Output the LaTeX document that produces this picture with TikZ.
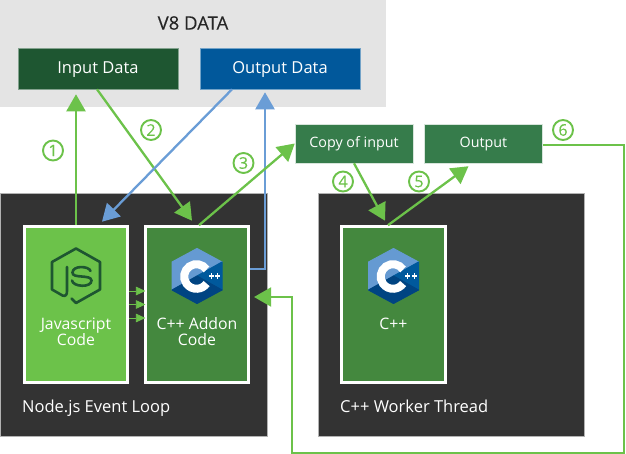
\documentclass[tikz,border=0pt]{standalone}
\usepackage{fontspec}
\setmainfont{Open Sans}
\newfontfamily\semibd[FakeBold=0.2]{Open Sans}
\usetikzlibrary{arrows.meta}
\definecolor{gline}{HTML}{6CC24A}
\definecolor{bline}{HTML}{6A9DD6}
\definecolor{dark}{HTML}{333333}
\definecolor{pale}{HTML}{E4E4E4}
\definecolor{indata}{HTML}{1E5631}
\definecolor{outdata}{HTML}{01589B}
\definecolor{midgreen}{HTML}{367C4B}
\definecolor{addon}{HTML}{44883E}
\definecolor{cA}{HTML}{659AD2}
\definecolor{cB}{HTML}{00599C}
\definecolor{cC}{HTML}{004482}
\tikzset{
  x=1pt,y=-1pt,
  panel/.style={fill=dark,draw=gray!60,line width=0.4pt,inner sep=0,anchor=north west},
  datum/.style={draw=white!45!#1,fill=#1,line width=0.6pt,text=white,font=\fontsize{16.5}{18}\selectfont,inner sep=0,minimum width=160pt,minimum height=41pt,text height=11.8pt,text depth=2pt},
  small/.style={draw=white!80!midgreen,fill=midgreen,line width=0.5pt,text=white,font=\fontsize{14.3}{16}\selectfont,inner sep=0,minimum width=118pt,minimum height=39pt,text height=10.2pt,text depth=1.5pt},
  codebox/.style={draw=white,fill=#1,line width=2.6pt,inner sep=0,minimum width=103.5pt,minimum height=156pt},
  caption/.style={text=white,inner sep=0,align=center,font=\fontsize{15.8}{15.8}\selectfont},
  paneltext/.style={text=white,inner sep=0,anchor=west,font=\fontsize{16.5}{18}\selectfont,text height=11.8pt,text depth=0pt},
  gflow/.style={draw=gline,line width=2.3pt,-{Triangle[length=17pt,width=19pt]}},
  bflow/.style={draw=bline,line width=2.3pt,-{Triangle[length=17pt,width=19pt]}},
  tiny/.style={draw=gline,line width=0.6pt,-{Triangle[length=9.5pt,width=8.5pt]}},
  num/.style={circle,draw=gline,line width=1.9pt,text=gline,minimum size=20pt,inner sep=0,font=\semibd\fontsize{16}{16}\selectfont},
  cpplogo/.pic={
    \fill[cA,line join=round,draw=cA,line width=1pt] (0,-27.5)--(25,-14)--(0,0)--(-25,14)--(-25,-14)--cycle;
    \fill[cB,draw=cB,line width=1pt,line join=round] (25,-14)--(25,14)--(0,0)--cycle;
    \fill[cC,draw=cC,line width=1pt,line join=round] (-25,14)--(0,0)--(25,14)--(0,27.5)--cycle;
    \draw[white,line width=8pt] (-0.5,0.5) ++(35:12.3pt) arc[start angle=35,end angle=325,radius=12.3pt];
    \foreach \px in {14.2,20.7}{
      \fill[white] (\px-2.6,-0.7) rectangle (\px+2.6,0.7);
      \fill[white] (\px-0.7,-2.6) rectangle (\px+0.7,2.6);
    }
  },
  jslogo/.pic={
    \draw[indata,line width=2.6pt,line join=round,line cap=round]
      (-4.5,22.5) -- (0,27) -- (24,13.5) -- (24,-14) -- (0,-27.5) -- (-24,-14) -- (-24,13.5) -- (-13.5,19.5)
      .. controls (-10,21) and (-9,18) .. (-9,15) -- (-9,-9);
    \draw[indata,line width=2.6pt,line cap=round]
      (14.5,-5) .. controls (13,-10) and (-3,-11) .. (-3.5,-3.5)
      .. controls (-4,3) and (15,-2) .. (15.5,4.5)
      .. controls (15.5,12) and (-3,11) .. (-4,4.5);
  },
}
\begin{document}
\begin{tikzpicture}
\useasboundingbox (0,0) rectangle (626,454);
\fill[pale] (0,0) rectangle (386,107);
\node[font=\semibd\fontsize{18.5}{20}\selectfont,text=black!85,inner sep=0] (v8) at (193,23) {V8 DATA};
\node[datum=indata] (input) at (98,68.5) {Input Data};
\node[datum=outdata] (output) at (280,68.5) {Output Data};
\node[panel,minimum width=267pt,minimum height=243pt] (loop) at (0,193) {};
\node[panel,minimum width=266pt,minimum height=243pt] (worker) at (318,193) {};
\node[small] (copy) at (354,143.5) {Copy of input};
\node[small] (out) at (483.5,143.5) {Output};
\node[codebox=gline] (js) at (76,304.5) {};
\node[codebox=addon] (addonbox) at (197,304.5) {};
\node[codebox=addon] (cpp) at (393.5,304.5) {};
\pic at (76,276) {jslogo};
\pic at (197,276) {cpplogo};
\pic at (393.5,276) {cpplogo};
\node[caption] (jst) at (76,331.5) {Javascript\\Code};
\node[caption] (addt) at (197,331.5) {C++ Addon\\Code};
\node[caption] (cppt) at (393.5,324) {C++};
\node[paneltext] (loopt) at (22,407) {Node.js Event Loop};
\node[paneltext] (workert) at (340,407) {C++ Worker Thread};
% flows
\draw[gflow] (js.north) -- ([xshift=-22pt,yshift=-5pt]input.south);
\draw[gflow] ([xshift=-1pt]input.south) -- ([xshift=-5pt,yshift=4.5pt]addonbox.north);
\draw[bflow] ([xshift=-48pt]output.south) -- ([xshift=-95pt,yshift=3.5pt]addonbox.north);
\draw[bflow] ([yshift=35.5pt]addonbox.east) -| ([xshift=-15pt,yshift=-3pt]output.south);
\draw[gflow] ([xshift=2pt]addonbox.north) -- (copy.west);
\draw[gflow] (copy.south) -- ([xshift=-8.5pt,yshift=4.5pt]cpp.north);
\draw[gflow] ([xshift=-5.5pt]cpp.north) -- ([xshift=-15pt,yshift=-3pt]out.south);
\coordinate (turnA) at (624,145);
\coordinate (turnB) at (624,453);
\coordinate (turnC) at (291.5,453);
\coordinate (turnD) at (291.5,297);
\draw[gflow,line width=2pt] ([yshift=-1.5pt]out.east) -- (turnA) -- (turnB) -- (turnC) -- (turnD) -- ([xshift=4pt,yshift=7.5pt]addonbox.east);
\foreach \n/\dy in {a/-13.5,b/0,c/13.5}{
  \draw[tiny] ([yshift=-\dy pt]js.east) -- ([xshift=1.5pt,yshift=-\dy pt]addonbox.west);
}
\node[num] (n1) at (53,150.5) {1};
\node[num] (n2) at (151,130) {2};
\node[num] (n3) at (243.5,163) {3};
\node[num] (n4) at (343,181.5) {4};
\node[num] (n5) at (419,181.5) {5};
\node[num] (n6) at (563,130) {6};
\end{tikzpicture}
\end{document}
